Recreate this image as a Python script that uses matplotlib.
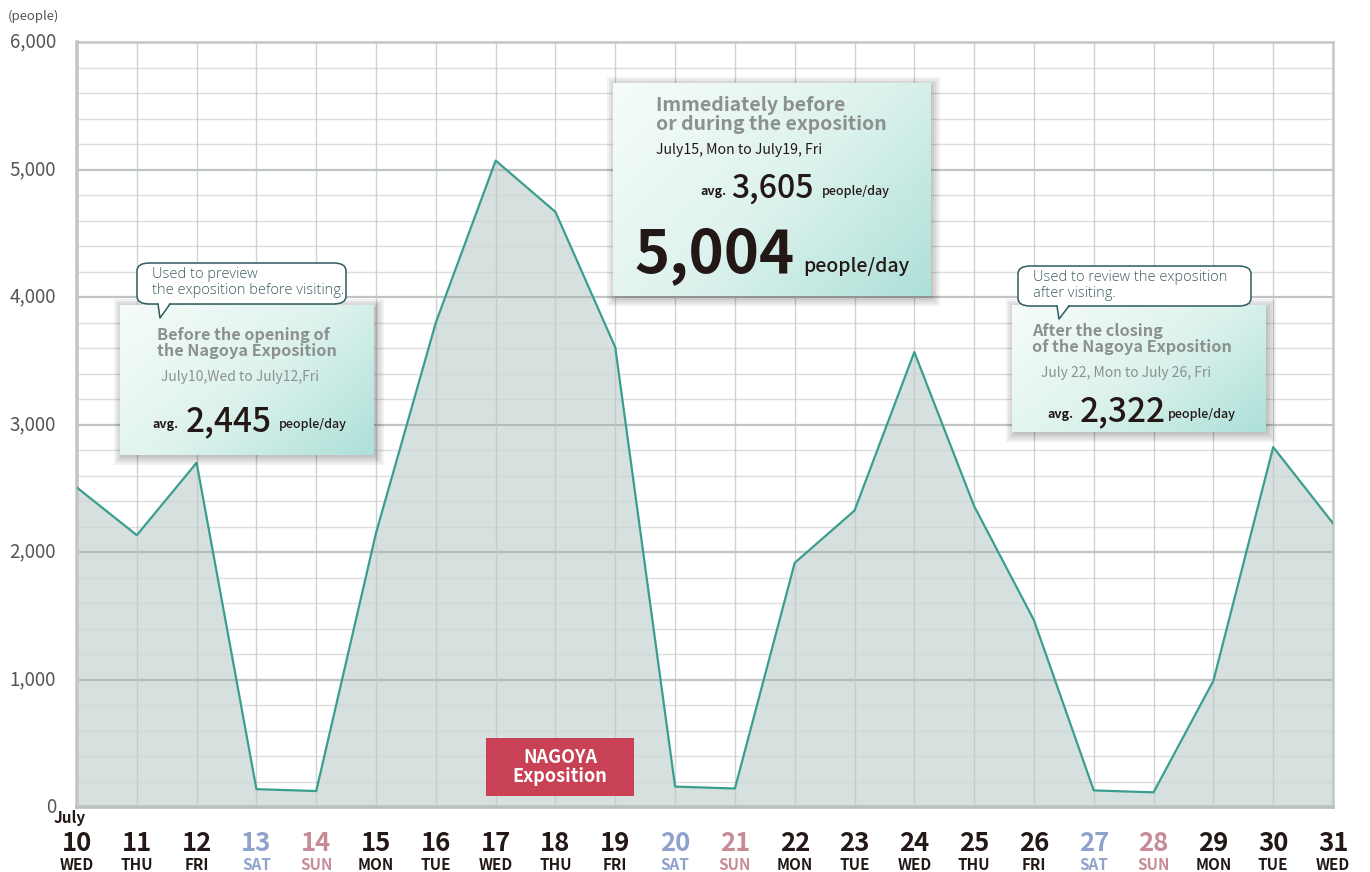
#!/usr/bin/env python3
"""Daily visitors in July around the Nagoya Exposition."""

import matplotlib

matplotlib.use("Agg")
import matplotlib.pyplot as plt
import numpy as np
from matplotlib.colors import LinearSegmentedColormap
from matplotlib.patches import FancyBboxPatch, Polygon, Rectangle

DAYS = list(range(10, 32))
WEEKDAYS = ["WED", "THU", "FRI", "SAT", "SUN", "MON", "TUE",
            "WED", "THU", "FRI", "SAT", "SUN", "MON", "TUE",
            "WED", "THU", "FRI", "SAT", "SUN", "MON", "TUE", "WED"]
VISITORS = [2505, 2132, 2700, 140, 125, 2150, 3800, 5070, 4667, 3605, 160,
            145, 1915, 2325, 3568, 2360, 1465, 130, 115, 990, 2823, 2225]
Y_TICKS = [0, 1000, 2000, 3000, 4000, 5000, 6000]

W, H = 1370, 872
FONT = ["Noto Sans CJK JP", "DejaVu Sans"]
LIGHT = ["Open Sans", "Lato", "DejaVu Sans"]
LINE = "#3a9e8f"
FILL = "#d6e0de"
DARK = "#231815"
GRAYTXT = "#8c9190"
SAT_C = "#8ea2cb"
SUN_C = "#c68b97"


def fx(x):
    return x / W


def fy(y):
    return 1 - y / H


def gradient_box(fig, ax, x0, y0, x1, y1):
    # soft shadow drawn in main axes (below the box axes)
    for i in range(5):
        d = 2 + i * 2
        ax.add_patch(Rectangle((fx(x0 - d + 4), fy(y1 + d)), fx(x1 - x0 + 2 * d - 4),
                               (y1 - y0 + 2 * d - 4) / H, transform=fig.transFigure,
                               facecolor="#000000", alpha=0.05, edgecolor="none",
                               clip_on=False, zorder=6))
    bax = fig.add_axes([fx(x0), fy(y1), fx(x1 - x0), (y1 - y0) / H])
    bax.set_zorder(5)
    cmap = LinearSegmentedColormap.from_list("g", ["#f6fcfa", "#dff3ee", "#ade0d8"])
    gx, gy = np.meshgrid(np.linspace(0, 1, 200), np.linspace(0, 1, 200))
    bax.imshow(gx * 0.6 + gy * 0.4, cmap=cmap, aspect="auto", extent=(0, 1, 0, 1),
               origin="upper")
    bax.set_axis_off()


def callout(fig, x0, y0, x1, y1, tx, ty, lines):
    fig.patches.append(FancyBboxPatch((fx(x0), fy(y1)), fx(x1 - x0), (y1 - y0) / H,
                                      boxstyle="round,pad=0,rounding_size=0.009",
                                      transform=fig.transFigure, facecolor="white",
                                      edgecolor="#2d5c5e", linewidth=1.1, zorder=10))
    fig.patches.append(Polygon([(fx(tx - 2), fy(y1 - 1.5)), (fx(tx + 10), fy(y1 - 1.5)),
                                (fx(tx), fy(ty))], closed=True, transform=fig.transFigure,
                               facecolor="white", edgecolor="none", zorder=11))
    fig.lines.append(plt.Line2D([fx(tx - 2), fx(tx), fx(tx + 10)],
                                [fy(y1), fy(ty), fy(y1)], transform=fig.transFigure,
                                color="#2d5c5e", linewidth=1.1, zorder=12))
    fig.text(fx(x0 + 15), fy(y0 + 4), lines, ha="left", va="top", fontsize=10.5,
             family=LIGHT, fontweight="light", color="#3f5f60", linespacing=1.1,
             zorder=13)


def main():
    fig = plt.figure(figsize=(W / 100, H / 100), dpi=100)
    ax = fig.add_axes([fx(77), fy(807), fx(1333 - 77), (807 - 42) / H])

    ax.fill_between(DAYS, VISITORS, 0, color=FILL, zorder=1, linewidth=0)
    ax.plot(DAYS, VISITORS, color=LINE, linewidth=1.6, zorder=3)

    for v in range(200, 6000, 200):
        major = v % 1000 == 0
        ax.axhline(v, color="#a9b2b0" if major else "#cfd3d2",
                   linewidth=1.6 if major else 1.0, alpha=0.75, zorder=2)
    for d in DAYS[1:-1]:
        ax.axvline(d, color="#c4c8c7", linewidth=1.0, alpha=0.8, zorder=2)

    ax.set_xlim(DAYS[0], DAYS[-1])
    ax.set_ylim(0, 6000)
    for s in ax.spines.values():
        s.set_color("#c3c6c5")
        s.set_linewidth(1.8)
    ax.spines["left"].set_linewidth(2.6)
    ax.spines["bottom"].set_linewidth(2.6)
    ax.spines["bottom"].set_color("#b9c0be")

    ax.set_yticks(Y_TICKS)
    ax.set_yticklabels([f"{v:,}" for v in Y_TICKS], family=FONT, fontsize=13.5,
                       color="#555555")
    ax.tick_params(axis="y", length=0, pad=15)
    for lbl in ax.get_yticklabels():
        lbl.set_verticalalignment("center")
    ax.set_xticks([])

    fig.text(fx(8), fy(16), "(people)", fontsize=9.5, family=FONT, color="#555555",
             ha="left", va="center")

    # day labels
    day_cols = {"SAT": SAT_C, "SUN": SUN_C}
    for d, wd in zip(DAYS, WEEKDAYS):
        c = day_cols.get(wd, DARK)
        ax.text(d, -290, str(d), transform=ax.transData, ha="center", va="center",
                fontsize=18.5, fontweight="bold", family=FONT, color=c, clip_on=False)
        ax.text(d, -455, wd, transform=ax.transData, ha="center", va="center",
                fontsize=11, fontweight="bold", family=FONT, color=c, clip_on=False)
    fig.text(fx(70), fy(818), "July", ha="center", va="center", fontsize=11,
             fontweight="bold", family=FONT, color=DARK)

    # NAGOYA Exposition tag
    ax.add_patch(Rectangle((fx(486), fy(796)), fx(148), 58 / H, transform=fig.transFigure,
                           facecolor="#c84155", edgecolor="none", zorder=6))
    fig.text(fx(560), fy(767), "NAGOYA\nExposition", ha="center", va="center",
             fontsize=13, fontweight="bold", family=FONT, color="white",
             linespacing=0.95, zorder=7)

    # box 1
    gradient_box(fig, ax, 120, 305, 374, 455)
    fig.text(fx(157), fy(343), "Before the opening of\nthe Nagoya Exposition", ha="left",
             va="center", fontsize=11.7, fontweight="bold", family=FONT, color=GRAYTXT,
             linespacing=1.05, zorder=13)
    fig.text(fx(161), fy(377), "July10,Wed to July12,Fri", ha="left", va="center",
             fontsize=10, family=FONT, color=GRAYTXT, zorder=13)
    fig.text(fx(152), fy(428), "avg.", ha="left", va="baseline", fontsize=9,
             fontweight="bold", family=FONT, color=DARK, zorder=13)
    fig.text(fx(186), fy(431), "2,445", ha="left", va="baseline", fontsize=24,
             fontweight="medium", family=FONT, color=DARK, zorder=13)
    fig.text(fx(279), fy(428), "people/day", ha="left", va="baseline", fontsize=9,
             fontweight="medium", family=FONT, color=DARK, zorder=13)
    callout(fig, 137, 263, 346, 304, 160, 318,
            "Used to preview\nthe exposition before visiting.")

    # box 2
    gradient_box(fig, ax, 613, 83, 930, 296)
    fig.text(fx(656), fy(115), "Immediately before\nor during the exposition", ha="left",
             va="center", fontsize=14, fontweight="bold", family=FONT, color=GRAYTXT,
             linespacing=1.0, zorder=13)
    fig.text(fx(656), fy(150), "July15, Mon to July19, Fri", ha="left", va="center",
             fontsize=10.2, family=FONT, color=DARK, zorder=13)
    fig.text(fx(700), fy(195), "avg.", ha="left", va="baseline", fontsize=9,
             fontweight="bold", family=FONT, color=DARK, zorder=13)
    fig.text(fx(731), fy(198), "3,605", ha="left", va="baseline", fontsize=23,
             fontweight="medium", family=FONT, color=DARK, zorder=13)
    fig.text(fx(822), fy(195), "people/day", ha="left", va="baseline", fontsize=9,
             fontweight="medium", family=FONT, color=DARK, zorder=13)
    fig.text(fx(635), fy(273), "5,004", ha="left", va="baseline", fontsize=43,
             fontweight="bold", family=FONT, color=DARK, zorder=13)
    fig.text(fx(803), fy(272), "people/day", ha="left", va="baseline", fontsize=14,
             fontweight="medium", family=FONT, color=DARK, zorder=13)

    # box 3
    gradient_box(fig, ax, 1012, 305, 1266, 432)
    fig.text(fx(1032), fy(339), "After the closing\nof the Nagoya Exposition", ha="left",
             va="center", fontsize=11.7, fontweight="bold", family=FONT, color=GRAYTXT,
             linespacing=1.05, zorder=13)
    fig.text(fx(1041), fy(373), "July 22, Mon to July 26, Fri", ha="left", va="center",
             fontsize=10, family=FONT, color=GRAYTXT, zorder=13)
    fig.text(fx(1047), fy(418), "avg.", ha="left", va="baseline", fontsize=9,
             fontweight="bold", family=FONT, color=DARK, zorder=13)
    fig.text(fx(1080), fy(421), "2,322", ha="left", va="baseline", fontsize=24,
             fontweight="medium", family=FONT, color=DARK, zorder=13)
    fig.text(fx(1168), fy(418), "people/day", ha="left", va="baseline", fontsize=9,
             fontweight="medium", family=FONT, color=DARK, zorder=13)
    callout(fig, 1018, 266, 1251, 306, 1059, 319,
            "Used to review the exposition\nafter visiting.")

    fig.savefig("out.png", dpi=100, facecolor="white")


if __name__ == "__main__":
    main()
